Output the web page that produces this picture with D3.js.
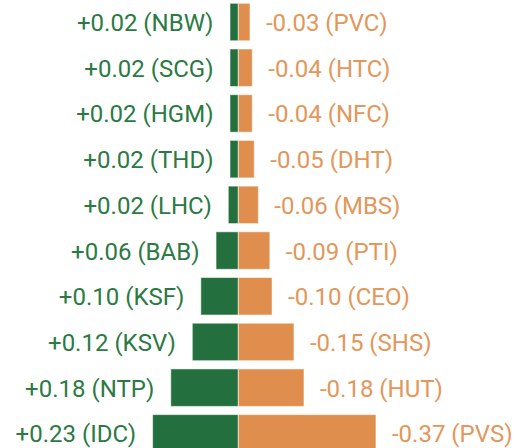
<!DOCTYPE html>
<html>
<head>
<meta charset="utf-8">
<script src="https://cdn.jsdelivr.net/npm/d3@7"></script>
<style>
html,body{margin:0;padding:0;background:#fff;}
svg{display:block;}
</style>
</head>
<body>
<svg id="chart" width="515" height="448"></svg>
<script>
const gainTickers = ["NBW","SCG","HGM","THD","LHC","BAB","KSF","KSV","NTP","IDC"];
const gainValues  = [0.0224,0.0224,0.0224,0.0224,0.027,0.060,0.101,0.124,0.182,0.231];
const gainLabels  = ["+0.02","+0.02","+0.02","+0.02","+0.02","+0.06","+0.10","+0.12","+0.18","+0.23"];
const lossTickers = ["PVC","HTC","NFC","DHT","MBS","PTI","CEO","SHS","HUT","PVS"];
const lossValues  = [-0.0315,-0.0377,-0.0377,-0.043,-0.054,-0.085,-0.091,-0.150,-0.177,-0.371];
const lossLabels  = ["-0.03","-0.04","-0.04","-0.05","-0.06","-0.09","-0.10","-0.15","-0.18","-0.37"];

const svg = d3.select("#chart");
const rows = d3.range(gainTickers.length);
const cx = 238.3, k = 371;
const x = d3.scaleLinear().domain([-1, 1]).range([cx - k, cx + k]);
const y = d3.scaleBand().domain(rows).range([3.3, 452.1]).paddingInner(0.18).paddingOuter(0);

const green = "#23703e", orange = "#df8e4d";
const greenText = "#2b7a43", orangeText = "#e3975a";

svg.append("g").selectAll("rect").data(rows).join("rect")
  .attr("x", i => x(-gainValues[i]))
  .attr("y", i => y(i))
  .attr("width", i => x(0) - x(-gainValues[i]))
  .attr("height", y.bandwidth())
  .attr("fill", green)
  .attr("stroke", "rgba(255,255,255,0.55)")
  .attr("stroke-width", 1);

svg.append("g").selectAll("rect").data(rows).join("rect")
  .attr("x", x(0))
  .attr("y", i => y(i))
  .attr("width", i => x(-lossValues[i]) - x(0))
  .attr("height", y.bandwidth())
  .attr("fill", orange)
  .attr("stroke", "rgba(255,255,255,0.55)")
  .attr("stroke-width", 1);

const fs = 24;
svg.append("g").selectAll("text").data(rows).join("text")
  .attr("x", i => x(-gainValues[i]) - 16.5)
  .attr("y", i => y(i) + y.bandwidth() / 2 + 9)
  .attr("text-anchor", "end")
  .attr("font-family", "Roboto, sans-serif")
  .attr("font-size", fs)
  .attr("fill", greenText)
  .text(i => `${gainLabels[i]} (${gainTickers[i]})`);

svg.append("g").selectAll("text").data(rows).join("text")
  .attr("x", i => x(-lossValues[i]) + 16)
  .attr("y", i => y(i) + y.bandwidth() / 2 + 9)
  .attr("text-anchor", "start")
  .attr("font-family", "Roboto, sans-serif")
  .attr("font-size", fs)
  .attr("fill", orangeText)
  .text(i => `${lossLabels[i]} (${lossTickers[i]})`);
</script>
</body>
</html>
